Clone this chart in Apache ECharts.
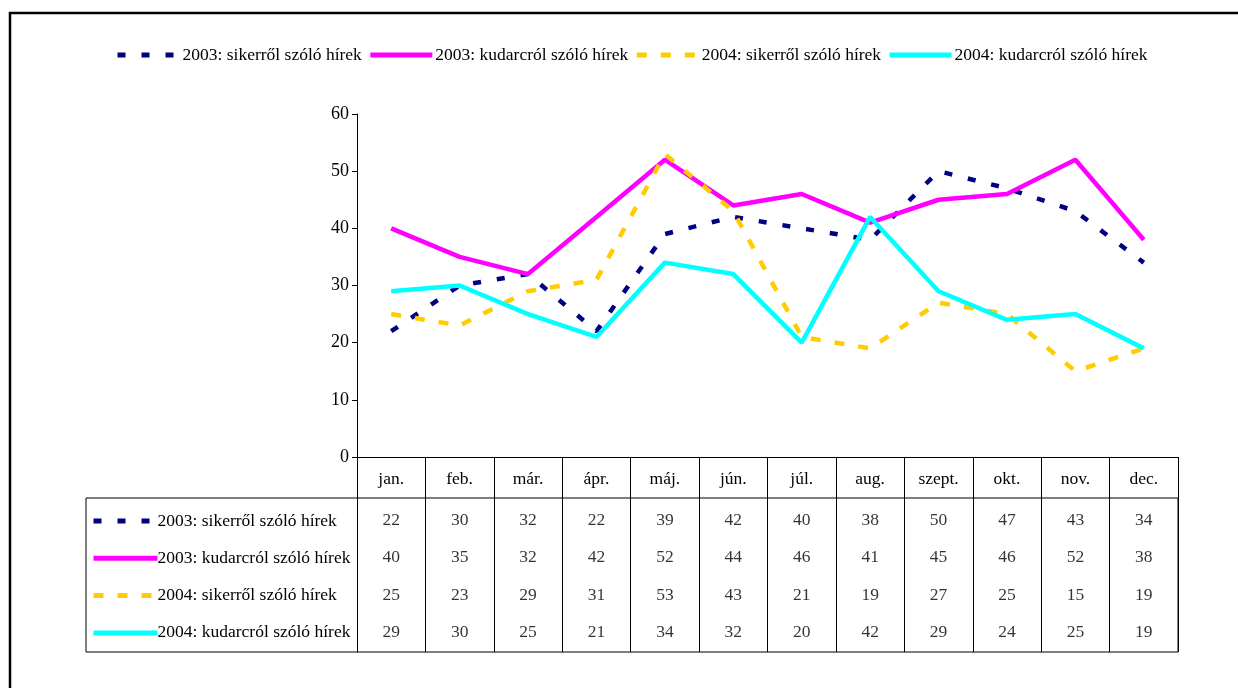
<!DOCTYPE html>
<html>
<head>
<meta charset="utf-8">
<script src="https://cdn.jsdelivr.net/npm/echarts@6/dist/echarts.min.js"></script>
<style>
  html, body { margin: 0; padding: 0; background: #fff; }
  #chart { width: 1238px; height: 688px; }
</style>
</head>
<body>
<div id="chart"></div>
<script>
  // adatok
  const months = ['jan.', 'feb.', 'már.', 'ápr.', 'máj.', 'jún.', 'júl.', 'aug.', 'szept.', 'okt.', 'nov.', 'dec.'];
  const seriesNames = [
    '2003: sikerről szóló hírek',
    '2003: kudarcról szóló hírek',
    '2004: sikerről szóló hírek',
    '2004: kudarcról szóló hírek'
  ];
  const siker2003 = [22, 30, 32, 22, 39, 42, 40, 38, 50, 47, 43, 34];
  const kudarc2003 = [40, 35, 32, 42, 52, 44, 46, 41, 45, 46, 52, 38];
  const siker2004 = [25, 23, 29, 31, 53, 43, 21, 19, 27, 25, 15, 19];
  const kudarc2004 = [29, 30, 25, 21, 34, 32, 20, 42, 29, 24, 25, 19];

  const allData = [siker2003, kudarc2003, siker2004, kudarc2004];
  const colors = ['#000080', '#FF00FF', '#FFCC00', '#00FFFF'];
  const lineTypes = [[8, 16], 'solid', [10, 14], 'solid'];
  const font = 'Liberation Serif, Times New Roman, serif';

  const chart = echarts.init(document.getElementById('chart'));

  let series = [];
  for (let i = 0; i < allData.length; i++) {
    series.push({
      name: seriesNames[i],
      type: 'line',
      xAxisIndex: 0,
      yAxisIndex: 0,
      symbol: 'none',
      data: allData[i],
      lineStyle: { color: colors[i], width: 4.5, type: lineTypes[i] },
      itemStyle: { color: colors[i] }
    });
  }
  // adattabla cellai
  for (let i = 0; i < allData.length; i++) {
    series.push({
      name: 'tabla' + i,
      type: 'scatter',
      xAxisIndex: 1,
      yAxisIndex: 1,
      symbolSize: 0,
      silent: true,
      data: allData[i].map((v, j) => [j, i, v]),
      label: {
        show: true,
        position: 'inside',
        offset: [0, 3 - i],
        formatter: p => p.value[2],
        color: '#000',
        fontFamily: font,
        fontSize: 17.5
      }
    });
  }

  let option = {
    animation: false,
    backgroundColor: '#fff',
    graphic: [{
      type: 'rect',
      shape: { x: 10, y: 13, width: 1400, height: 800 },
      style: { fill: 'none', stroke: '#000', lineWidth: 2.5 },
      z: -1
    }],
    legend: [
      {
        data: seriesNames,
        left: 110,
        top: 40,
        itemGap: 6,
        itemWidth: 62,
        itemHeight: 20,
        selectedMode: false,
        itemStyle: { opacity: 0 },
        lineStyle: { width: 5 },
        textStyle: { color: '#000', fontFamily: font, fontSize: 17.5, lineHeight: 20, padding: [0, 0, 0, -2] }
      },
      {
        data: seriesNames,
        orient: 'vertical',
        left: 86,
        top: 506,
        itemGap: 17.3,
        itemWidth: 64,
        itemHeight: 20,
        selectedMode: false,
        itemStyle: { opacity: 0 },
        lineStyle: { width: 5 },
        textStyle: { color: '#000', fontFamily: font, fontSize: 17.5, lineHeight: 20, padding: [0, 0, 0, -5] }
      }
    ],
    grid: [
      { left: 357, right: 60, top: 114, height: 343 },
      { left: 357, right: 60, top: 498, height: 154 },
      { left: 86, right: 60, top: 498, height: 154, show: true, borderColor: '#000', borderWidth: 1, backgroundColor: 'transparent' }
    ],
    xAxis: [
      {
        type: 'category',
        gridIndex: 0,
        data: months,
        boundaryGap: true,
        axisLine: { lineStyle: { color: '#000', width: 1 } },
        axisTick: { show: true, length: 41, interval: 0, lineStyle: { color: '#000', width: 1 } },
        axisLabel: { interval: 0, margin: 13, color: '#000', fontFamily: font, fontSize: 17.5 },
        splitLine: { show: false }
      },
      {
        type: 'category',
        gridIndex: 1,
        data: months,
        boundaryGap: true,
        axisLine: { show: false },
        axisTick: { show: false },
        axisLabel: { show: false },
        splitLine: { show: true, interval: 0, lineStyle: { color: '#000', width: 1 } }
      },
      {
        type: 'category',
        gridIndex: 2,
        data: months,
        show: false
      }
    ],
    yAxis: [
      {
        type: 'value',
        gridIndex: 0,
        min: 0,
        max: 60,
        interval: 10,
        axisLine: { show: true, lineStyle: { color: '#000', width: 1 } },
        axisTick: { show: true, length: 5, lineStyle: { color: '#000' } },
        axisLabel: { margin: 8, color: '#000', fontFamily: font, fontSize: 18 },
        splitLine: { show: false }
      },
      {
        type: 'category',
        gridIndex: 1,
        data: [0, 1, 2, 3],
        inverse: true,
        axisLine: { show: true, lineStyle: { color: '#000', width: 1 } },
        axisTick: { show: false },
        axisLabel: { show: false },
        splitLine: { show: false }
      },
      {
        type: 'value',
        gridIndex: 2,
        show: false
      }
    ],
    series: series
  };

  chart.setOption(option);
  window.addEventListener('resize', function () {
    chart.resize();
  });
</script>
</body>
</html>
